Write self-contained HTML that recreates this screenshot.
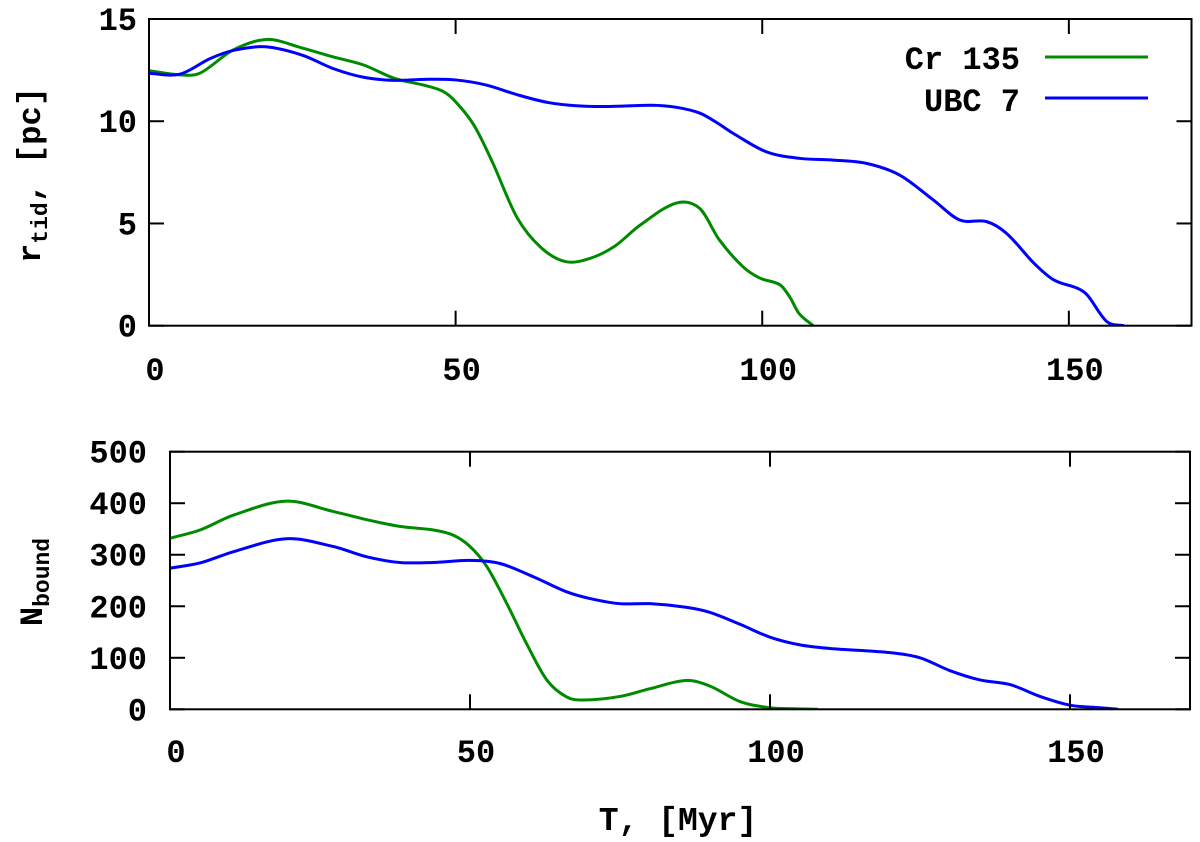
<!DOCTYPE html>
<html><head><meta charset="utf-8"><style>
body{margin:0;background:#fff}
svg{display:block}
text{font-family:"Liberation Mono",monospace;font-weight:bold;fill:#000}
</style></head><body>
<svg id="chart" width="1200" height="842" xmlns="http://www.w3.org/2000/svg">
<g id="top"></g>
<g id="bot"></g>
<text x="40" y="175" font-size="32" text-anchor="middle" transform="rotate(-90 40 175)">r<tspan font-size="23" dy="7">tid</tspan><tspan dy="-7">, [pc]</tspan></text>
<text x="42" y="582" font-size="32" text-anchor="middle" transform="rotate(-90 42 582)">N<tspan font-size="23" dy="7">bound</tspan></text>
<text x="678" y="830" font-size="33" text-anchor="middle">T, [Myr]</text>
<g>
<text x="1020" y="69" font-size="32" text-anchor="end">Cr 135</text>
<line x1="1045" y1="57" x2="1148" y2="57" stroke="#008a00" stroke-width="3"/>
<text x="1020" y="111" font-size="32" text-anchor="end">UBC 7</text>
<line x1="1045" y1="98" x2="1148" y2="98" stroke="#0000ff" stroke-width="3"/>
</g>
</svg>
<script>
const xTicks=[0,50,100,150];
const topYTicks=[0,5,10,15];
const botYTicks=[0,100,200,300,400,500];
const rCrT=[0,5,8.3,13.7,19.2,25,30,35,40,45,48,50,53,56,60,64,68,72,76,80,86,89.8,93,96.8,99.6,102.9,104.5,106,108.3];
const rCrV=[12.47,12.27,12.35,13.48,14.0,13.58,13.15,12.75,12.1,11.75,11.45,10.95,9.8,8.0,5.3,3.8,3.13,3.3,3.9,4.9,6.0,5.74,4.2,2.9,2.33,2.0,1.4,0.6,0];
const rUbT=[0,5,10,14,19,25,30,35,40,45,50,55,60,65,70,75,82,86,89.8,92.5,95.3,100.7,106.2,111.6,117,122.4,127.9,132.2,136.6,139.9,144.3,147.6,151.4,153,156.2,159];
const rUbV=[12.34,12.3,13.07,13.48,13.64,13.23,12.58,12.15,12.0,12.05,12.02,11.77,11.3,10.92,10.75,10.72,10.78,10.68,10.4,9.95,9.4,8.5,8.18,8.1,7.94,7.37,6.15,5.17,5.09,4.5,3.06,2.23,1.83,1.5,0.2,0];
const nCrT=[0,5,10.6,19.4,27.2,32.8,38.3,43.9,47.2,50,52.8,56.1,59.4,62.8,66.1,69,75,80,86,90,95,100,104,108];
const nCrV=[332,348,377,404,384,368,355,348,338,316,277,206,128,57,24,18,25,40,56,45,15,3,1,0];
const nUbT=[0,5,10.6,19.4,27.2,32.8,38.3,43.9,50,55,60.6,66.1,70,75,80,86,90,95,100,105,110,120,125,130,135,140,145,150,155,158];
const nUbV=[274,284,306,331,316,296,285,285,289,283,257,228,215,205,205,198,188,165,140,125,118,110,100,75,57,48,25,8,3,0];

const NS="http://www.w3.org/2000/svg";
function mk(tag,attrs,parent){const e=document.createElementNS(NS,tag);for(const k in attrs)e.setAttribute(k,attrs[k]);parent.appendChild(e);return e;}
function smooth(pts){
  const n=pts.length,m=[];
  for(let i=0;i<n;i++){const a=pts[Math.max(i-1,0)],b=pts[Math.min(i+1,n-1)];m.push((b[1]-a[1])/(b[0]-a[0]));}
  let d=`M${pts[0][0]},${pts[0][1]}`;
  for(let i=0;i<n-1;i++){const p1=pts[i],p2=pts[i+1],dx=p2[0]-p1[0];
    d+=`C${p1[0]+dx/3},${p1[1]+m[i]*dx/3} ${p2[0]-dx/3},${p2[1]-m[i+1]*dx/3} ${p2[0]},${p2[1]}`;}
  return d;}
function panel(g,L,R,T,B,xmax,ymax,yTicks,labRight,xLabY,series,nm){
  const sx=v=>L+(R-L)*v/xmax, sy=v=>B-(B-T)*v/ymax;
  const clip=mk('clipPath',{id:'c'+nm},g);mk('rect',{x:L,y:T-2,width:R-L,height:B-T+2},clip);
  series.forEach(s=>{const p=mk('path',{d:smooth(s.t.map((t,i)=>[sx(t),sy(s.v[i])])),fill:'none',stroke:s.c,'stroke-width':3,'clip-path':`url(#c${nm})`},g);
    
    });
  xTicks.forEach(v=>{const x=sx(v);mk('line',{x1:x,y1:B,x2:x,y2:B-15,stroke:'#000','stroke-width':2},g);mk('line',{x1:x,y1:T,x2:x,y2:T+15,stroke:'#000','stroke-width':2},g);
    const t=mk('text',{x:x+6,y:xLabY,'font-size':32,'text-anchor':'middle'},g);t.textContent=v;
    
    });
  yTicks.forEach(v=>{const y=sy(v);mk('line',{x1:L,y1:y,x2:L+15,y2:y,stroke:'#000','stroke-width':2},g);mk('line',{x1:R,y1:y,x2:R-15,y2:y,stroke:'#000','stroke-width':2},g);
    const t=mk('text',{x:labRight,y:y+11,'font-size':32,'text-anchor':'end'},g);t.textContent=v;
    
    });
  const f=mk('rect',{x:L,y:T,width:R-L,height:B-T,fill:'none',stroke:'#000','stroke-width':2},g);
  
  
}
panel(document.getElementById('top'),149,1191.5,19,325.7,170,15,topYTicks,137,380,[{t:rCrT,v:rCrV,c:'#008a00',n:'cr135'},{t:rUbT,v:rUbV,c:'#0000ff',n:'ubc7'}],'top');
panel(document.getElementById('bot'),170,1190,451.7,709.3,170,500,botYTicks,147,762,[{t:nCrT,v:nCrV,c:'#008a00',n:'cr135'},{t:nUbT,v:nUbV,c:'#0000ff',n:'ubc7'}],'bottom');
</script>
</body></html>
